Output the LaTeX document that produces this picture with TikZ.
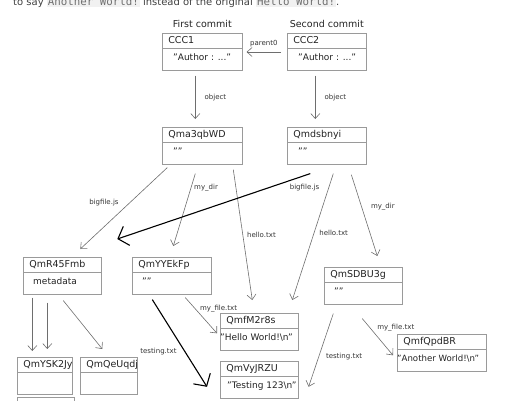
\documentclass[tikz,border=0pt]{standalone}
\usepackage{fontspec}
\setmainfont{DejaVu Sans}
\setmonofont[Scale=1.08]{DejaVu Sans Mono}
\usepackage{tikz}
\usetikzlibrary{positioning,arrows.meta}
\usepackage{xcolor}

\definecolor{boxgray}{HTML}{9A9A9A}
\definecolor{linkgray}{HTML}{6E6E6E}
\definecolor{inkgray}{HTML}{222222}
\definecolor{codebg}{HTML}{F1F1F1}
\definecolor{codefg}{HTML}{707070}

% object box: [body indent]{name}{top left}{width}{hash}{data}
\newcommand{\objbox}[6][10pt]{%
  \node[objframe, minimum width=#4] (#2) at (#3) {};
  \node[objhead] (#2-h) at (#2.north west) {\makebox[#4][l]{\hspace{6pt}#5}};
  \node[objbody] (#2-b) at (#2-h.south west) {\makebox[#4][l]{\hspace{#1}#6}};
}
\newcommand{\code}[1]{{\setlength{\fboxsep}{1pt}\colorbox{codebg}{\textcolor{codefg}{\ttfamily #1}}}}

\begin{document}
\begin{tikzpicture}[x=1pt,y=-1pt,text=inkgray,
  objframe/.style={draw=boxgray,line width=.6pt,anchor=north west,inner sep=0pt,minimum height=37pt},
  objhead/.style={draw=boxgray,line width=.6pt,anchor=north west,inner sep=0pt,text height=10pt,text depth=5pt,font=\fontsize{9.5}{11}\selectfont},
  objbody/.style={anchor=north west,inner sep=0pt,text height=12pt,text depth=10pt,font=\fontsize{9}{11}\selectfont},
  link/.style={draw=linkgray,line width=.6pt,-{Straight Barb[length=5pt,width=9pt]}},
  biglink/.style={draw=black,line width=1.1pt,-{Straight Barb[length=9pt,width=20pt]}},
  lbl/.style={font=\fontsize{7}{8}\selectfont,text=black!80,inner sep=1pt}]
\useasboundingbox (0,0) rectangle (520,400);

\node[anchor=base west,font=\fontsize{10}{12}\selectfont,text=black!75,inner sep=0pt] (intro) at (13,5.5) {to say \code{Another World!} instead of the original \code{Hello World!}.};

% commits
\objbox[11pt]{ccc1}{162,33}{80pt}{CCC1}{"Author : ..."}
\objbox[11pt]{ccc2}{287,33}{79pt}{CCC2}{"Author : ..."}
\node[above=3pt of ccc1,inner sep=2pt,font=\fontsize{9.5}{11}\selectfont] (first) {First commit};
\node[above=3pt of ccc2,inner sep=2pt,font=\fontsize{9.5}{11}\selectfont] (second) {Second commit};

% trees
\objbox[11pt]{qma}{162,127}{80pt}{Qma3qbWD}{""}
\objbox[11pt]{qmd}{287,127}{79pt}{Qmdsbnyi}{""}
\objbox{qmr}{23,257}{78pt}{QmR45Fmb}{metadata}
\objbox{qmy}{132,257}{79pt}{QmYYEkFp}{""}
\objbox{qms}{324,267}{78pt}{QmSDBU3g}{""}

% blobs
\objbox[0pt]{qmf}{220,313}{78pt}{QmfM2r8s}{"Hello World!\textbackslash n"}
\objbox[7pt]{qmv}{220,361}{78pt}{QmVyJRZU}{"Testing 123\textbackslash n"}
\objbox[0pt]{qmfq}{397,334}{89pt}{QmfQpdBR}{\fontsize{8.6}{11}\selectfont"Another World!\textbackslash n"}
\objbox{qmysk}{17,357}{55pt}{QmYSK2Jy}{}
\objbox{qmqe}{80,357}{57pt}{QmQeUqdj}{}
\objbox{qmnext}{17,397}{57pt}{}{}

% links
\draw[link] ([xshift=-6pt,yshift=-19pt]ccc2.north west) -- ([xshift=4pt,yshift=-19pt]ccc1.north east) node[lbl,midway,above=4pt] {parent0};
\draw[link] ([xshift=-7pt,yshift=-5pt]ccc1.south) -- ([xshift=-7pt,yshift=8pt]qma.north) node[lbl,midway,right=8pt] {object};
\draw[link] ([xshift=-11.5pt,yshift=-5pt]ccc2.south) -- ([xshift=-11.5pt,yshift=8pt]qmd.north) node[lbl,midway,right=8pt] {object};

\draw[link] ([xshift=-35pt,yshift=-3pt]qma.south) -- ([xshift=18pt,yshift=8pt]qmr.north) node[lbl,pos=.43,left=10pt] {bigfile.js};
\draw[link] ([xshift=-7pt,yshift=-9pt]qma.south) -- ([xshift=1.5pt,yshift=11pt]qmy.north) node[lbl,pos=.2,right=2pt] {my\_dir};
\draw[link] ([xshift=31pt,yshift=-5pt]qma.south) -- ([xshift=-7pt,yshift=13pt]qmf.north) node[lbl,pos=.5,right=3pt] {hello.txt};

\draw[biglink] ([xshift=-16.5pt,yshift=-9pt]qmd.south) -- ([xshift=55pt,yshift=18pt]qmr.north) node[lbl,pos=.03,below=7pt] {bigfile.js};
\draw[link] ([xshift=6.5pt,yshift=-9pt]qmd.south) -- ([xshift=33pt,yshift=13pt]qmf.north) node[lbl,pos=.47,right=4pt] {hello.txt};
\draw[link] ([xshift=24.5pt,yshift=-10pt]qmd.south) -- ([xshift=14pt,yshift=11pt]qms.north) node[lbl,pos=.4,right=8pt] {my\_dir};

\draw[link] ([xshift=-30pt,yshift=-3pt]qmr.south) -- ([xshift=-12.5pt,yshift=6pt]qmysk.north);
\draw[link] ([xshift=-15pt,yshift=-8pt]qmr.south) -- ([xshift=2.5pt,yshift=8pt]qmysk.north);
\draw[link] ([xshift=1pt,yshift=-6pt]qmr.south) -- ([xshift=-6.5pt,yshift=8pt]qmqe.north);

\draw[link] ([xshift=13.5pt,yshift=-3pt]qmy.south) -- ([xshift=-3pt,yshift=-1.5pt]qmf.west) node[lbl,pos=.3,right=4pt] {my\_file.txt};
\draw[biglink] ([xshift=-19.5pt,yshift=-5pt]qmy.south) -- ([xshift=-13pt,yshift=-7pt]qmv.west) node[lbl,pos=.6,left=7pt] {testing.txt};

\draw[link] ([xshift=-30pt,yshift=-9pt]qms.south) -- ([xshift=10pt,yshift=-7pt]qmv.east) node[lbl,pos=.59,right=6pt] {testing.txt};
\draw[link] ([xshift=-1pt,yshift=-14pt]qms.south) -- ([xshift=-4pt,yshift=-2.5pt]qmfq.west) node[lbl,pos=.25,right=6pt] {my\_file.txt};
\end{tikzpicture}
\end{document}
